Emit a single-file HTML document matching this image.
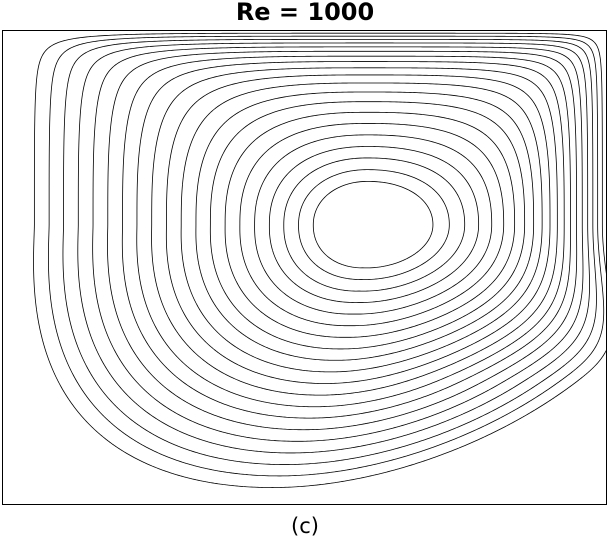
<!DOCTYPE html>
<html><head><meta charset="utf-8">
<style>
html,body{margin:0;padding:0;background:#fff;}
body{width:610px;height:541px;position:relative;overflow:hidden;font-family:"Liberation Sans","DejaVu Sans",sans-serif;}
#title{position:absolute;left:0;width:610px;top:-2px;text-align:center;font-weight:bold;font-size:24px;font-family:"DejaVu Sans","Liberation Sans",sans-serif;}
#cap{position:absolute;left:0;width:610px;top:514px;text-align:center;font-size:21px;font-family:"DejaVu Sans","Liberation Sans",sans-serif;}
svg{position:absolute;left:0;top:0;}
</style></head><body>
<div id="title">Re = 1000</div>
<svg id="plot" width="610" height="541">
<defs><clipPath id="cp"><rect x="2.5" y="30.5" width="604" height="474"/></clipPath></defs>
<rect x="2.5" y="30.5" width="604" height="474" fill="none" stroke="#000" stroke-width="1"/>
<g id="contours" clip-path="url(#cp)"></g>
</svg>
<div id="cap">(c)</div>
<script>
// contour levels (normalized distance from vortex core, 0 = core)
const levels = [0.163,0.207,0.251,0.294,0.338,0.382,0.426,0.470,0.513,0.557,0.601,0.645,0.689,0.732,0.776,0.820,0.864,0.908,0.951,0.995];
// vortex center (fraction of cavity width from left, fraction of height from top)
const vortexCenter = [0.605, 0.41];
// half-extents of outermost streamline as fraction of cavity: left, right(upper), up, down, right(lower)
const extents = [0.555, 0.389, 0.405, 0.557, 0.52];
// leftward shift of the bottom-most point of the outermost streamline (fraction of width)
const tilt = [0.16];

const X0=2.5, Y0=30.5, W=604, H=474;
function warp(s,c,m){return c*s+(1-c)*Math.pow(Math.max(s,0),m);}
function smooth(s){s=Math.max(0,Math.min(1,s));return s*s*(3-2*s);}
function field(x,t){
  const dx=(x-vortexCenter[0])*W, dy=(t-vortexCenter[1])*H;
  let ux, uy;
  if(dy<0){
    ux = dx<0 ? -dx/(extents[0]*W) : warp(dx/(extents[1]*W),0.58,4);
    uy = warp(-dy/(extents[2]*H),0.72,8);
    const r2=Math.sqrt(ux*ux+uy*uy);
    const n=2+3*r2*r2;
    return Math.pow(Math.pow(ux,n)+Math.pow(uy,n),1/n);
  } else {
    const s=dy/(extents[3]*H);
    const dxs = dx + tilt[0]*W*Math.pow(s,1.6);
    uy = s;
    if(dxs<0){ ux = -dxs/(extents[0]*W); }
    else {
      const w=smooth(dy/160);
      ux = (1-w)*warp(dx/(extents[1]*W),0.58,4) + w*(dxs/(extents[4]*W));
    }
    return Math.sqrt(ux*ux+uy*uy);
  }
}
const NX=302, NY=237;
const F=[];
for(let j=0;j<=NY;j++){const row=[];for(let i=0;i<=NX;i++)row.push(field(i/NX,j/NY));F.push(row);}
const sx=i=>X0+i/NX*W, sy=j=>Y0+j/NY*H;
const g=document.getElementById('contours');
levels.forEach((lv,k)=>{
  let d='';
  for(let j=0;j<NY;j++)for(let i=0;i<NX;i++){
    const c=[[i,j,F[j][i]],[i+1,j,F[j][i+1]],[i+1,j+1,F[j+1][i+1]],[i,j+1,F[j+1][i]]];
    const pts=[];
    for(let e=0;e<4;e++){
      const a=c[e],b=c[(e+1)%4];
      if((a[2]<lv)!==(b[2]<lv)){
        const t=(lv-a[2])/(b[2]-a[2]);
        pts.push([sx(a[0]+(b[0]-a[0])*t),sy(a[1]+(b[1]-a[1])*t)]);
      }
    }
    for(let m=0;m+1<pts.length;m+=2)
      d+='M'+pts[m][0].toFixed(2)+' '+pts[m][1].toFixed(2)+'L'+pts[m+1][0].toFixed(2)+' '+pts[m+1][1].toFixed(2);
  }
  const path=document.createElementNS('http://www.w3.org/2000/svg','path');
  path.setAttribute('d',d);
  path.setAttribute('fill','none');
  path.setAttribute('stroke','#000');
  path.setAttribute('stroke-width','0.8');
  
  
  g.appendChild(path);
});
</script>
</body></html>
